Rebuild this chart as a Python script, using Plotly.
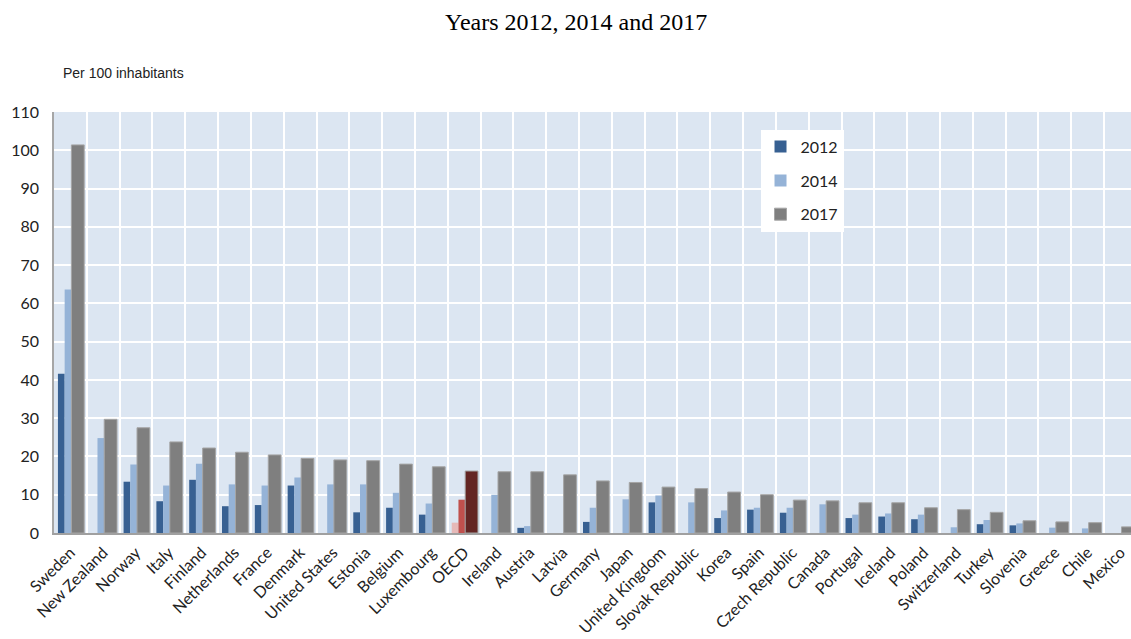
import plotly.graph_objects as go

countries = ["Sweden", "New Zealand", "Norway", "Italy", "Finland", "Netherlands", "France",
             "Denmark", "United States", "Estonia", "Belgium", "Luxembourg", "OECD", "Ireland",
             "Austria", "Latvia", "Germany", "Japan", "United Kingdom", "Slovak Republic", "Korea",
             "Spain", "Czech Republic", "Canada", "Portugal", "Iceland", "Poland", "Switzerland",
             "Turkey", "Slovenia", "Greece", "Chile", "Mexico"]

v2012 = [41.6, None, 13.4, 8.3, 13.9, 7.0, 7.3, 12.4, None, 5.4, 6.6, 4.8, 2.7, None,
         1.35, None, 2.9, None, 8.0, None, 3.9, 6.1, 5.3, None, 3.9, 4.3, 3.6, None,
         2.3, 2.0, None, None, None]
v2014 = [63.6, 24.8, 17.9, 12.4, 18.1, 12.7, 12.4, 14.5, 12.7, 12.7, 10.5, 7.7, 8.7, 10.0,
         1.8, None, 6.6, 8.8, 9.8, 8.0, 5.9, 6.6, 6.6, 7.5, 4.8, 5.1, 4.8, 1.5,
         3.4, 2.5, 1.4, 1.2, None]
v2017 = [101.4, 29.7, 27.5, 23.8, 22.2, 21.1, 20.4, 19.5, 19.1, 18.9, 18.0, 17.3, 16.2, 16.0,
         16.0, 15.2, 13.6, 13.2, 12.0, 11.6, 10.7, 10.0, 8.6, 8.4, 7.9, 7.9, 6.6, 6.1,
         5.4, 3.2, 2.9, 2.7, 1.6]

years = ["2012", "2014", "2017"]
y_ticks = list(range(0, 111, 10))

base_colors = {"2012": "#376092", "2014": "#95b3d7", "2017": "#7f7f7f"}
oecd_colors = {"2012": "#e6b9b8", "2014": "#c0504d", "2017": "#632523"}
# bar placement inside each category slot (offset from centre, width), in category units
geometry = {"2012": (-0.38, 0.205), "2014": (-0.175, 0.205), "2017": (0.03, 0.39)}

fig = go.Figure()
for year, vals in zip(years, [v2012, v2014, v2017]):
    colors = [oecd_colors[year] if c == "OECD" else base_colors[year] for c in countries]
    off, wid = geometry[year]
    fig.add_trace(go.Bar(
        x=countries, y=vals, name=year,
        offset=off, width=wid,
        marker=dict(color=colors,
                    line=dict(color="#a5a5a5" if year == "2017" else "rgba(0,0,0,0)",
                              width=1 if year == "2017" else 0)),
        legendgroup=year,
    ))

fig.update_layout(
    width=1131, height=639,
    margin=dict(l=54, r=0, t=112, b=106),
    paper_bgcolor="white",
    plot_bgcolor="#dce6f2",
    barmode="overlay",
    showlegend=True,
    legend=dict(
        x=0.656, y=0.958, xanchor="left", yanchor="top",
        bgcolor="white", borderwidth=0,
        font=dict(family="Lato", size=16, color="#222222"),
        tracegroupgap=10,
        itemwidth=30,
    ),
    font=dict(family="Lato", color="#222222"),
)

fig.update_xaxes(
    type="category",
    range=[-0.5, 32.32],
    automargin=False,
    tickson="boundaries",
    showgrid=True, gridcolor="white", gridwidth=1.5,
    ticks="", tickangle=-45, ticklabelstandoff=2,
    tickfont=dict(family="Lato", size=16, color="#222222"),
    showline=True, linecolor="#a0a0a0", linewidth=2,
)

fig.update_yaxes(
    range=[0, 110],
    automargin=False,
    tickvals=y_ticks,
    showgrid=True, gridcolor="white", gridwidth=1.5,
    zeroline=False,
    showline=True, linecolor="#a6a6a6", linewidth=1.5,
    ticks="", ticklabelstandoff=10,
    tickfont=dict(family="Lato", size=16, color="#222222"),
)

fig.add_annotation(
    text="Years 2012, 2014 and 2017",
    xref="paper", yref="paper", x=0.4845, y=(533.5 - 22) / 421.5,
    xanchor="center", yanchor="middle", showarrow=False,
    font=dict(family="Liberation Serif", size=24, color="black"),
)
fig.add_annotation(
    text="Per 100 inhabitants",
    xref="paper", yref="paper", x=(61 - 54) / 1077, y=(533.5 - 73) / 421.5,
    xanchor="left", yanchor="middle", showarrow=False,
    font=dict(family="Liberation Sans", size=14, color="#222222"),
)

fig.write_html("out.html")
